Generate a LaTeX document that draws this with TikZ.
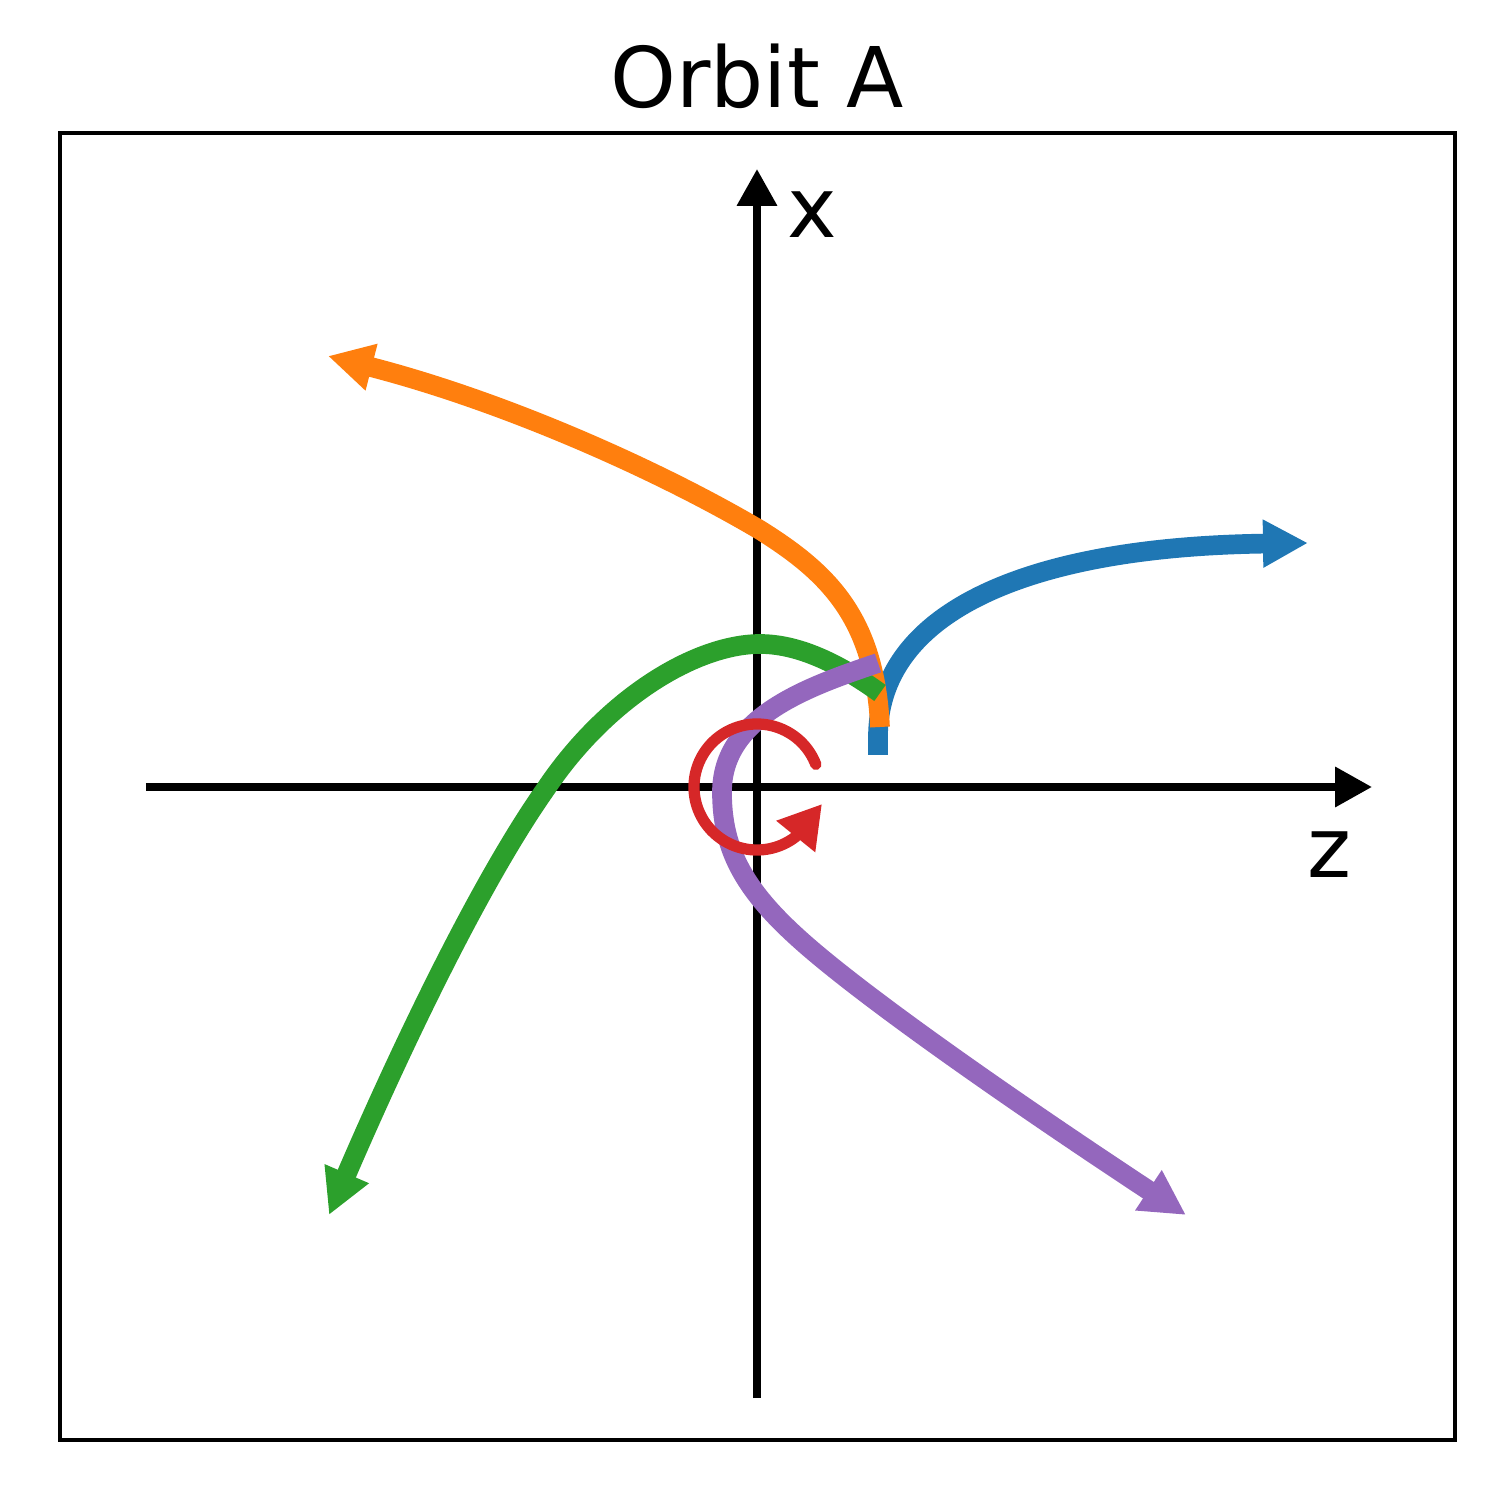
\documentclass[tikz,border=0pt]{standalone}
\usepackage{fontspec}
\setmainfont{DejaVu Sans}
\usetikzlibrary{arrows.meta}
\definecolor{tabblue}{HTML}{1F77B4}
\definecolor{taborange}{HTML}{FF7F0E}
\definecolor{tabgreen}{HTML}{2CA02C}
\definecolor{tabred}{HTML}{D62728}
\definecolor{tabpurple}{HTML}{9467BD}
\begin{document}
\begin{tikzpicture}
  [x=0.01cm,y=0.01cm,
   axis/.style={line width=2.2pt,-{Triangle[length=10.5pt,width=11pt]}},
   orbit/.style={line width=5.6pt,-{Triangle[length=12.8pt,width=12.8pt]}},
   spin/.style={line width=3.2pt,line cap=round,-{Triangle[length=11.9pt,width=13.4pt]}},
   every node/.style={font=\fontsize{23.8}{28}\selectfont,inner sep=0pt}]
  \useasboundingbox (-757,-713) rectangle (743,787);
  \draw[line width=1pt] (-697,654) rectangle (698,-653);
  \node (title)[anchor=base] at (0,679) {Orbit A};

  % axes
  \coordinate (zl0) at (-611,0);
  \coordinate (zl1) at (615,0);
  \coordinate (xl0) at (0,-611);
  \coordinate (xl1) at (0,618);
  \draw[axis] (zl0) -- (zl1);
  \draw[axis] (xl0) -- (xl1);
  \node (xlab)[anchor=base] at (55,549) {x};
  \node (zlab)[anchor=base] at (572,-91) {z};

  % orbits
  \draw[orbit,tabblue] (121,32) -- (121,50) .. controls (121,170) and (260,240) .. (551,244);
  \draw[orbit,taborange] (123,60) .. controls (118,170) and (70,215) .. (3,257)
    .. controls (-95,315) and (-250,385) .. (-429,431);
  \draw[orbit,tabgreen] (123,94) .. controls (80,125) and (40,143) .. (3,143)
    .. controls (-60,143) and (-150,90) .. (-212,-3)
    .. controls (-280,-100) and (-360,-270) .. (-428,-428);
  \draw[orbit,tabpurple] (121,124) .. controls (50,100) and (-35,70) .. (-35,-5)
    .. controls (-35,-60) and (-15,-100) .. (40,-150)
    .. controls (100,-205) and (250,-310) .. (429,-428);
  \draw[spin,tabred] (21:63) arc[start angle=21,end angle=307.5,radius=63] -- (65,-17);

\end{tikzpicture}
\end{document}
